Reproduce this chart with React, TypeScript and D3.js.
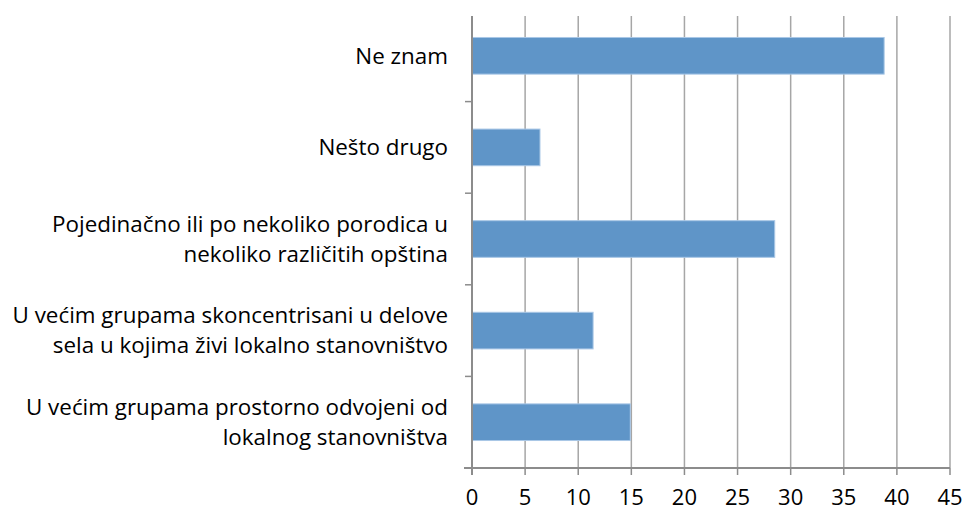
import { useMemo } from "react";
import * as d3 from "d3";

const WIDTH = 975;
const HEIGHT = 511;

// categories top to bottom, each label split into its lines
const categories = [
  "Ne znam",
  "Nešto drugo",
  "Pojedinačno ili po nekoliko porodica u nekoliko različitih opština",
  "U većim grupama skoncentrisani u delove sela u kojima živi lokalno stanovništvo",
  "U većim grupama prostorno odvojeni od lokalnog stanovništva",
];
const labelLines = [
  ["Ne znam"],
  ["Nešto drugo"],
  ["Pojedinačno ili po nekoliko porodica u", "nekoliko različitih opština"],
  ["U većim grupama skoncentrisani u delove", "sela u kojima živi lokalno stanovništvo"],
  ["U većim grupama prostorno odvojeni od", "lokalnog stanovništva"],
];
const values = [38.8, 6.4, 28.5, 11.4, 14.9];
const xTicks = [0, 5, 10, 15, 20, 25, 30, 35, 40, 45];

const MARGIN = { top: 10, right: 25, bottom: 43, left: 472 };
const GRID_TOP = 16;
const FONT = "'Open Sans', Lato, sans-serif";

export default function App() {
  const innerW = WIDTH - MARGIN.left - MARGIN.right;
  const innerH = HEIGHT - MARGIN.top - MARGIN.bottom;

  const x = useMemo(() => d3.scaleLinear().domain([0, 45]).range([0, innerW]), [innerW]);
  const y = useMemo(
    () =>
      d3
        .scaleBand<string>()
        .domain(categories)
        .range([0, innerH])
        .paddingInner(0.6)
        .paddingOuter(0.3),
    [innerH]
  );

  const step = y.step();
  const gridTop = GRID_TOP - MARGIN.top;

  return (
    <div style={{ position: "fixed", left: 0, top: 0 }}>
      <svg width={WIDTH} height={HEIGHT} style={{ display: "block", background: "#fff" }}>
        <g transform={`translate(${MARGIN.left},${MARGIN.top})`}>
          {/* vertical gridlines */}
          {xTicks.slice(1).map((t) => (
            <line
              key={"g" + t}
              x1={x(t)}
              x2={x(t)}
              y1={gridTop}
              y2={innerH}
              stroke="#a6a6a6"
              strokeWidth={1.5}
            />
          ))}

          {/* bars */}
          {categories.map((c, i) => (
            <rect
              key={c}
              x={x(0)}
              y={y(c)}
              width={x(values[i]) - x(0)}
              height={y.bandwidth()}
              fill="#5f95c8"
              stroke="#a9c7e6"
              strokeWidth={1}
            />
          ))}

          {/* category axis */}
          <line x1={0} x2={0} y1={gridTop} y2={innerH + 7} stroke="#8c8c8c" strokeWidth={2} />
          {d3.range(1, categories.length).map((k) => (
            <line
              key={"ct" + k}
              x1={-7}
              x2={0}
              y1={k * step}
              y2={k * step}
              stroke="#8c8c8c"
              strokeWidth={1.5}
            />
          ))}
          {categories.map((c, i) => {
            const lines = labelLines[i];
            const lh = 30;
            const cy = (y(c) ?? 0) + y.bandwidth() / 2;
            const first = cy - ((lines.length - 1) * lh) / 2;
            return (
              <text
                key={"l" + c}
                x={-24}
                textAnchor="end"
                fontFamily={FONT}
                fontSize={22.4}
                fill="#000"
              >
                {lines.map((ln, j) => (
                  <tspan key={j} x={-24} y={first + j * lh} dy="0.35em">
                    {ln}
                  </tspan>
                ))}
              </text>
            );
          })}

          {/* value axis */}
          <line x1={-8} x2={innerW} y1={innerH} y2={innerH} stroke="#8c8c8c" strokeWidth={2} />
          {xTicks.map((t) => (
            <g key={"t" + t} transform={`translate(${x(t)},${innerH})`}>
              <line y1={0} y2={7} stroke="#8c8c8c" strokeWidth={1.5} />
              <text y={37} textAnchor="middle" fontFamily={FONT} fontSize={22} fill="#000">
                {t}
              </text>
            </g>
          ))}
        </g>
      </svg>
    </div>
  );
}
